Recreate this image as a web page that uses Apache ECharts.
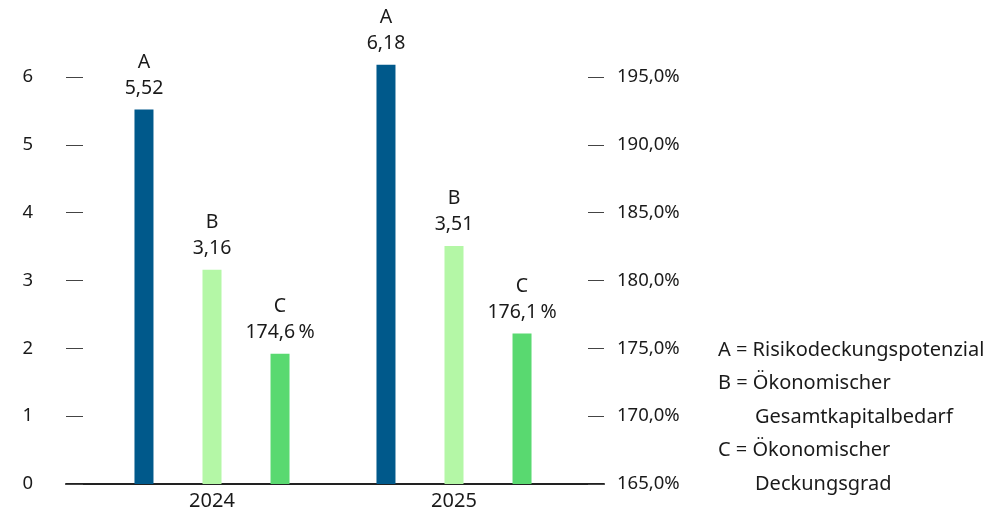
<!DOCTYPE html>
<html>
<head>
<meta charset="utf-8">
<script src="https://cdn.jsdelivr.net/npm/echarts@6/dist/echarts.min.js"></script>
<style>
  html, body { margin: 0; padding: 0; background: #fff; }
  #chart { width: 1004px; height: 514px; }
</style>
</head>
<body>
<div id="chart"></div>
<script>
// data
const years = ["2024", "2025"];
const riskCapacity = [5.52, 6.18];      // A, left axis
const capitalNeed = [3.16, 3.51];       // B, left axis
const coverageRatio = [174.6, 176.1];   // C, right axis (%)
const leftTicks = { min: 0, max: 6, interval: 1 };
const rightTicks = { min: 165, max: 195, interval: 5 };
const legendLines = [
  { text: "A = Risikodeckungspotenzial", indent: false },
  { text: "B = Ökonomischer", indent: false },
  { text: "Gesamtkapitalbedarf", indent: true },
  { text: "C = Ökonomischer", indent: false },
  { text: "Deckungsgrad", indent: true },
];

const FONT = "'Noto Sans', sans-serif";
const TEXT = "#1a1a1a";
const colors = { A: "#00598b", B: "#b4f7a6", C: "#59d970" };

const de = (v, d) => v.toFixed(d).replace(".", ",");

const chart = echarts.init(document.getElementById("chart"), null, { renderer: "canvas" });

const gridTop = 77, gridBottom = 514 - 484;

const barLabel = (letter, fmt) => ({
  show: true,
  position: "top",
  distance: 8,
  color: TEXT,
  fontFamily: FONT,
  fontSize: 19.5,
  lineHeight: 26,
  align: "center",
  formatter: (p) => letter + "\n" + fmt(p.value),
});

const option = {
  animation: false,
  backgroundColor: "#fff",
  textStyle: { fontFamily: FONT, color: TEXT },
  grid: [
    // frame grid: axis line + outer ticks
    { left: 66, right: 1004 - 604, top: gridTop, bottom: gridBottom },
    // bar grid: narrower category band
    { left: 91, right: 1004 - 575, top: gridTop, bottom: gridBottom },
  ],
  xAxis: [
    {
      gridIndex: 0,
      type: "category",
      data: years,
      axisLine: { show: true, lineStyle: { color: "#222", width: 2 } },
      axisTick: { show: false },
      axisLabel: { show: false },
    },
    {
      gridIndex: 1,
      type: "category",
      data: years,
      axisLine: { show: false },
      axisTick: { show: false },
      axisLabel: { color: TEXT, fontFamily: FONT, fontSize: 20, margin: 7 },
    },
  ],
  yAxis: [
    {
      gridIndex: 0,
      type: "value",
      position: "left",
      ...leftTicks,
      axisLine: { show: false },
      axisTick: { show: true, inside: true, length: 17, lineStyle: { color: "#444" } },
      splitLine: { show: false },
      axisLabel: { color: TEXT, fontFamily: FONT, fontSize: 18.5, margin: 33 },
    },
    {
      gridIndex: 0,
      type: "value",
      position: "right",
      ...rightTicks,
      axisLine: { show: false },
      axisTick: { show: true, inside: true, length: 16, lineStyle: { color: "#444" } },
      splitLine: { show: false },
      axisLabel: {
        color: TEXT, fontFamily: FONT, fontSize: 18.5, margin: 13,
        formatter: (v) => de(v, 1) + "%",
      },
    },
    { gridIndex: 1, type: "value", ...leftTicks, show: false, splitLine: { show: false } },
    { gridIndex: 1, type: "value", ...rightTicks, show: false, splitLine: { show: false } },
  ],
  series: [
    {
      // 6,18 rises above the top tick, so let it draw past the grid
      name: "A", type: "bar", xAxisIndex: 1, yAxisIndex: 2, clip: false,
      data: riskCapacity, barWidth: 19, barGap: "258%",
      itemStyle: { color: colors.A },
      label: barLabel("A", (v) => de(v, 2)),
    },
    {
      name: "B", type: "bar", xAxisIndex: 1, yAxisIndex: 2,
      data: capitalNeed, barWidth: 19, barGap: "258%",
      itemStyle: { color: colors.B },
      label: barLabel("B", (v) => de(v, 2)),
    },
    {
      name: "C", type: "bar", xAxisIndex: 1, yAxisIndex: 3,
      data: coverageRatio, barWidth: 19, barGap: "258%",
      itemStyle: { color: colors.C },
      label: barLabel("C", (v) => de(v, 1) + "\u2009%"),
    },
  ],
  graphic: legendLines.map((l, i) => ({
    type: "text",
    x: l.indent ? 755 : 718,
    y: 350 + i * 33.5,
    style: { text: l.text, fill: TEXT, font: "20px " + FONT, verticalAlign: "middle" },
  })),
};

chart.setOption(option);
</script>
</body>
</html>
